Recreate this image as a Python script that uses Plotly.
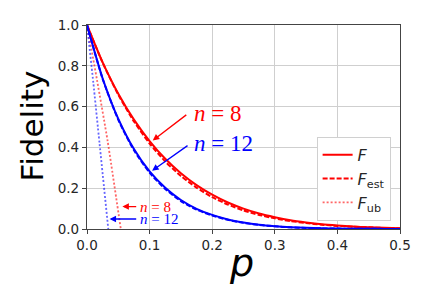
import plotly.graph_objects as go

# ---- data ----
p = [0, 0.025, 0.05, 0.075, 0.1, 0.125, 0.15, 0.175, 0.2, 0.225, 0.25,
     0.275, 0.3, 0.325, 0.35, 0.375, 0.4, 0.425, 0.45, 0.475, 0.5]

F_n8 = [1.0, 0.817, 0.663, 0.536, 0.431, 0.344, 0.273, 0.215, 0.168, 0.130,
        0.100, 0.076, 0.058, 0.043, 0.032, 0.023, 0.017, 0.012, 0.008, 0.006, 0.004]
Fest_n8 = [1.0, 0.815, 0.658, 0.527, 0.419, 0.331, 0.260, 0.203, 0.156, 0.120,
           0.091, 0.069, 0.052, 0.039, 0.029, 0.021, 0.015, 0.011, 0.008, 0.005, 0.004]

F_n12 = [1.0, 0.738, 0.540, 0.392, 0.282, 0.202, 0.142, 0.099, 0.069, 0.047,
         0.032, 0.021, 0.014, 0.009, 0.006, 0.004, 0.002, 0.001, 0.001, 0.0005, 0.0002]
Fest_n12 = [1.0, 0.736, 0.535, 0.386, 0.276, 0.196, 0.137, 0.095, 0.066, 0.045,
            0.030, 0.020, 0.013, 0.008, 0.005, 0.003, 0.002, 0.001, 0.001, 0.0005, 0.0002]

p_ub_n8 = [0, 0.016, 0.033, 0.054]
Fub_n8 = [1.0, 0.73, 0.43, 0.0]
p_ub_n12 = [0, 0.010, 0.020, 0.034]
Fub_n12 = [1.0, 0.72, 0.42, 0.0]

x_ticks = [0, 0.1, 0.2, 0.3, 0.4, 0.5]
y_ticks = [0, 0.2, 0.4, 0.6, 0.8, 1.0]

RED = "#ff0000"
BLUE = "#0000ff"

fig = go.Figure()

def add(x, y, color, dash, name=None, show=False, opacity=1.0, width=2):
    fig.add_trace(go.Scatter(
        x=x, y=y, mode="lines", name=name, showlegend=show, opacity=opacity,
        line=dict(color=color, width=width, dash=dash, shape="spline", smoothing=0.6)))

add(p, F_n8, RED, "solid", "<i>F</i>", True)
add(p, Fest_n8, RED, "5px,2px", "<i>F</i><sub>est</sub>", True)
add(p_ub_n8, Fub_n8, RED, "2px,2px", "<i>F</i><sub>ub</sub>", True, 0.6, 1.8)
add(p, F_n12, BLUE, "solid")
add(p, Fest_n12, BLUE, "5px,2px")
add(p_ub_n12, Fub_n12, BLUE, "2px,2px", opacity=0.6, width=1.8)

def arrow(x0, y0, x1, y1, color):
    fig.add_annotation(x=x1, y=y1, ax=x0, ay=y0, xref="x", yref="y",
                       axref="x", ayref="y", text="", showarrow=True,
                       arrowhead=2, arrowsize=1, arrowwidth=1.3, arrowcolor=color)

def label(x, y, txt, color, size):
    fig.add_annotation(x=x, y=y, xref="x", yref="y", text=txt, showarrow=False,
                       xanchor="left", yanchor="middle",
                       font=dict(family="Liberation Serif", size=size, color=color))

arrow(0.161, 0.565, 0.105, 0.434, RED)
arrow(0.163, 0.414, 0.104, 0.286, BLUE)
arrow(0.081, 0.110, 0.0565, 0.110, RED)
arrow(0.081, 0.049, 0.036, 0.049, BLUE)

label(0.168, 0.565, "<i>n</i> = 8", RED, 23)
label(0.168, 0.419, "<i>n</i> = 12", BLUE, 23)
label(0.082, 0.110, "<i>n</i> = 8", RED, 15)
label(0.082, 0.049, "<i>n</i> = 12", BLUE, 15)

# axis titles as paper annotations
fig.add_annotation(x=-0.177, y=0.506, xref="paper", yref="paper", text="Fidelity",
                   textangle=-90, showarrow=False, xanchor="center", yanchor="middle",
                   font=dict(family="DejaVu Sans", size=31, color="black"))
fig.add_annotation(x=0.495, y=-0.166, xref="paper", yref="paper", text="<i>p</i>",
                   showarrow=False, xanchor="center", yanchor="middle",
                   font=dict(family="DejaVu Sans", size=38, color="black"))

axis_common = dict(
    showgrid=True, gridcolor="#cfcfcf", gridwidth=1,
    showline=True, linecolor="#444444", linewidth=1.2, mirror=True,
    ticks="outside", ticklen=4, tickcolor="#444444",
    tickfont=dict(family="DejaVu Sans", size=13.5, color="#262626"),
    zeroline=False, automargin=False,
)

fig.update_xaxes(range=[0, 0.5], tickvals=x_ticks, ticktext=[f"{v:.1f}" for v in x_ticks],
                 **axis_common)
fig.update_yaxes(range=[0, 1.0], tickvals=y_ticks, ticktext=[f"{v:.1f}" for v in y_ticks],
                 **axis_common)

fig.update_layout(
    width=436, height=296,
    margin=dict(l=79, r=44, t=17, b=75, autoexpand=False),
    plot_bgcolor="white", paper_bgcolor="white",
    legend=dict(x=0.97, y=0.04, xanchor="right", yanchor="bottom",
                bgcolor="white", bordercolor="#d0d0d0", borderwidth=1,
                font=dict(family="DejaVu Sans", size=16, color="#262626"),
                itemwidth=30, tracegroupgap=0),
)

fig.write_html("out.html")
